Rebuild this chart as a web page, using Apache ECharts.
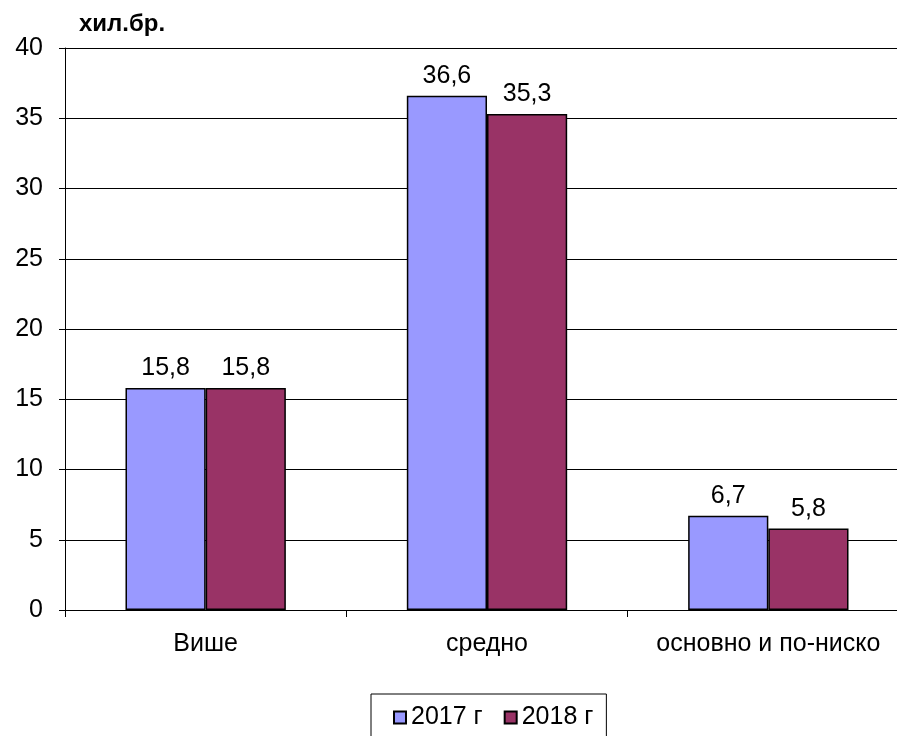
<!DOCTYPE html>
<html><head><meta charset="utf-8">
<script src="https://cdn.jsdelivr.net/npm/echarts@6/dist/echarts.min.js"></script>
<style>html,body{margin:0;padding:0;background:#fff;overflow:hidden;width:897px;height:736px}#c{width:909px;height:736px}</style>
</head><body><div id="c"></div>
<script>
const categories = ['Више', 'средно', 'основно и по-ниско'];
const series2017 = [15.8, 36.6, 6.7];
const series2018 = [15.8, 35.3, 5.8];
const seriesNames = ['2017 г', '2018 г'];
const unitLabel = 'хил.бр.';

const font = 'Liberation Sans, Arial, sans-serif';
const fs = 25;
const chart = echarts.init(document.getElementById('c'));
const lbl = {show: true, position: 'top', distance: 7, color: '#000', fontSize: fs, fontFamily: font,
  formatter: p => String(p.value).replace('.', ',')};
chart.setOption({
  animation: false,
  title: {text: unitLabel, left: 79, top: 12, padding: 0, textStyle: {fontSize: 24, fontWeight: 'bold', fontFamily: font, color: '#000'}},
  legend: {
    data: seriesNames, top: 694, left: 371,
    borderColor: '#000', borderWidth: 1, padding: [11, 13, 20, 22],
    itemWidth: 12, itemHeight: 12, itemGap: 21,
    icon: 'rect',
    textStyle: {fontSize: 25, fontFamily: font, color: '#000'}
  },
  grid: {left: 65, right: 0, top: 48, bottom: 126, containLabel: false},
  xAxis: {
    type: 'category', data: categories,
    axisLine: {lineStyle: {color: '#000', width: 1}},
    axisTick: {show: true, length: 7, lineStyle: {color: '#000'}},
    axisLabel: {fontSize: fs, fontFamily: font, color: '#000', margin: 22, interval: 0, hideOverlap: false}
  },
  yAxis: {
    type: 'value', min: 0, max: 40, interval: 5,
    axisLine: {show: true, lineStyle: {color: '#000', width: 1}},
    axisTick: {show: true, length: 6, inside: false, lineStyle: {color: '#000'}},
    axisLabel: {fontSize: fs, fontFamily: font, color: '#000', margin: 22},
    splitLine: {lineStyle: {color: '#000', width: 1}}
  },
  series: [
    {name: seriesNames[0], type: 'bar', data: series2017, barGap: '0%', barCategoryGap: '43%',
     itemStyle: {color: '#9999FF', borderColor: '#000', borderWidth: 1.5}, label: lbl},
    {name: seriesNames[1], type: 'bar', data: series2018,
     itemStyle: {color: '#993366', borderColor: '#000', borderWidth: 1.5}, label: lbl}
  ]
});
</script></body></html>
